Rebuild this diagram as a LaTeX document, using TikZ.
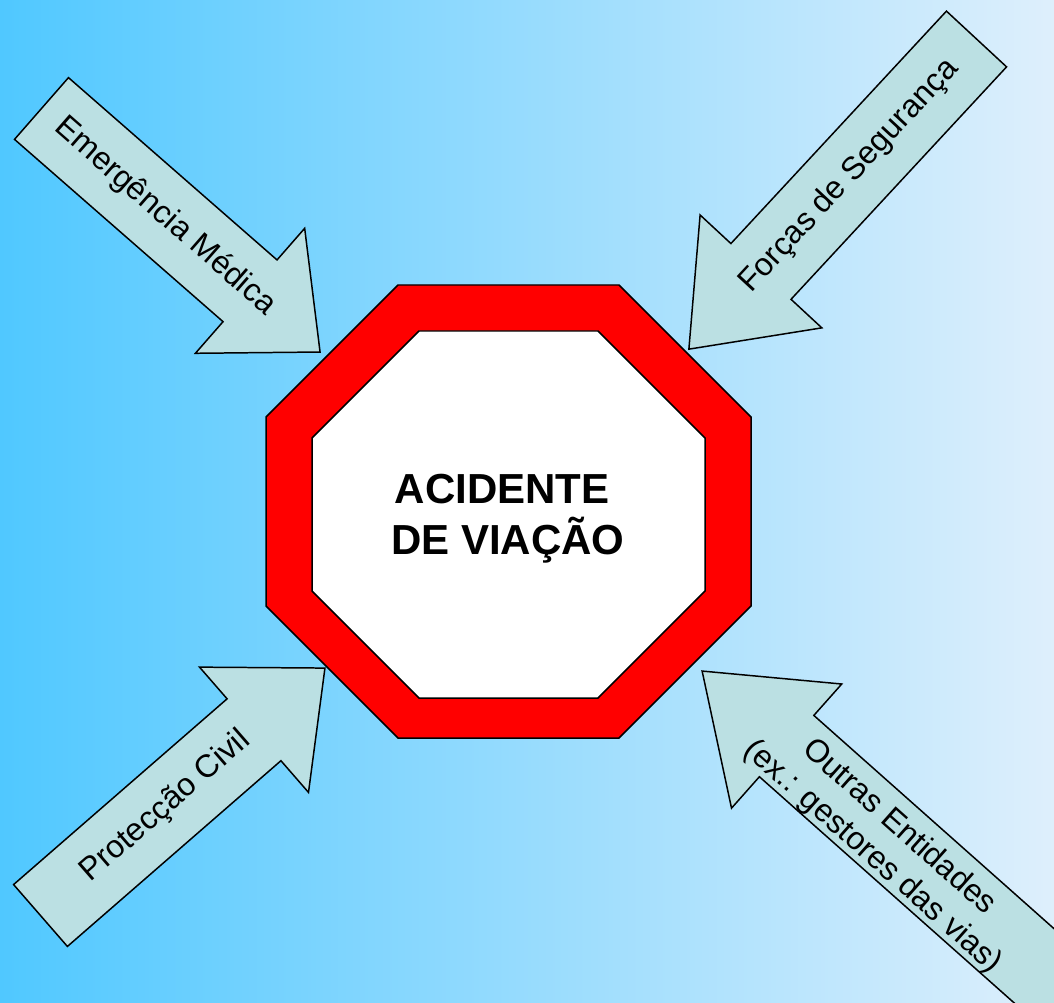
\documentclass[tikz,border=0pt]{standalone}
\usepackage{fontspec}
\setmainfont{Liberation Sans}
\definecolor{skyleft}{RGB}{80,200,255}
\definecolor{skyright}{RGB}{222,239,252}
\definecolor{agentfill}{RGB}{187,224,227}
\definecolor{signred}{RGB}{255,0,0}

\begin{document}
\begin{tikzpicture}[
    x=0.02cm, y=0.02cm,
    agent_arrow/.style = {draw=black, line width=0.85pt, fill=agentfill},
    agent_text/.style = {transform shape, align=center, inner sep=0pt, font=\fontsize{18.2pt}{22.5pt}\selectfont},
    sign_outer/.style = {draw=black, line width=0.85pt, fill=signred},
    sign_inner/.style = {draw=black, line width=0.85pt, fill=white},
    sign_text/.style = {align=center, inner sep=0pt, font=\fontsize{23.9pt}{29pt}\selectfont\bfseries}
]

% --- Fundo (gradiente) ---
\useasboundingbox (0,0) rectangle (1054,1002);
\clip (0,0) rectangle (1054,1002);
\fill[left color=skyleft, right color=skyright] (0,0) rectangle (1054,1002);

% --- Sinal de STOP ---
\draw[sign_outer] (398,717) -- (619,717) -- (751,585) -- (751,396) -- (619,264) -- (398,264) -- (266,396) -- (266,585) -- cycle;
\draw[sign_inner] (419,671) -- (598,671) -- (705,564) -- (705,411) -- (598,304) -- (419,304) -- (312,411) -- (312,564) -- cycle;
\node[sign_text] (acidente) at (508,483) {ACIDENTE\kern0.278em\\DE VIAÇÃO};

% --- Setas das entidades ---
% Emergência Médica (cima, esquerda)
\begin{scope}[shift={(41.5,893.5)}, rotate=-41.16]
  \draw[agent_arrow] (0,41) -- (277,41) -- (277,83) -- (370,0) -- (277,-83) -- (277,-41) -- (0,-41) -- cycle;
  \node[agent_text] (medica) at (164,0) {Emergência Médica};
\end{scope}

% Forças de Segurança (cima, direita)
\begin{scope}[shift={(976.5,963)}, rotate=227.16]
  \draw[agent_arrow] (0,41) -- (317,41) -- (317,83) -- (423,0) -- (317,-83) -- (317,-41) -- (0,-41) -- cycle;
  \node[agent_text, rotate=180] (seguranca) at (187,0) {Forças de Segurança};
\end{scope}

% Protecção Civil (baixo, esquerda)
\begin{scope}[shift={(40.5,86.5)}, rotate=41.02]
  \draw[agent_arrow] (0,41) -- (283,41) -- (283,83) -- (377,0) -- (283,-83) -- (283,-41) -- (0,-41) -- cycle;
  \node[agent_text] (civil) at (166,0) {Protecção Civil};
\end{scope}

% Outras Entidades (baixo, direita) - a cauda sai da imagem
\begin{scope}[shift={(1076,-1)}, rotate=138.4]
  \draw[agent_arrow] (0,41) -- (387,41) -- (387,83) -- (500,0) -- (387,-83) -- (387,-41) -- (0,-41) -- cycle;
  \node[agent_text, rotate=180] (outras) at (249,6) {Outras Entidades\\(ex.: gestores das vias)};
\end{scope}

\end{tikzpicture}
\end{document}
